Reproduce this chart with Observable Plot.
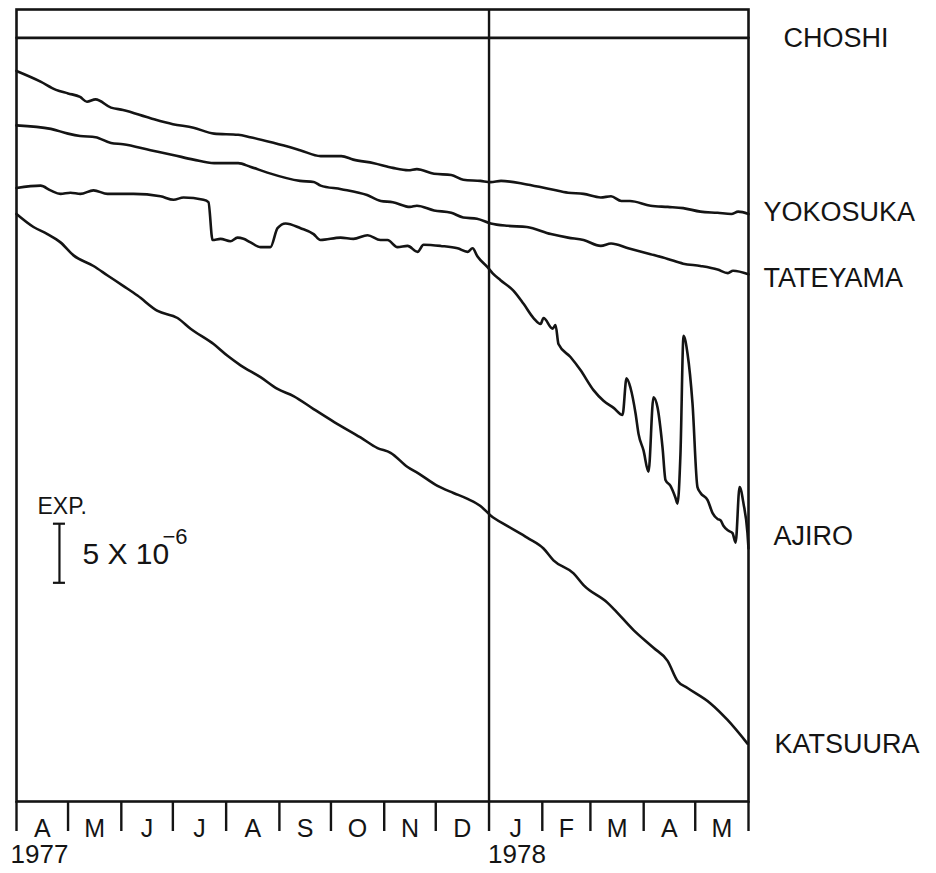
<!DOCTYPE html>
<html>
<head>
<meta charset="utf-8">
<script src="https://cdn.jsdelivr.net/npm/d3@7"></script>
<script src="https://cdn.jsdelivr.net/npm/@observablehq/plot@0.6"></script>
<style>
  html, body { margin: 0; padding: 0; background: #ffffff; }
  #chart svg { display: block; }
</style>
</head>
<body>
<div id="chart"></div>
<script>
// ---- Data (days since 1 April 1977; strain in units of 10^-6, arbitrary offsets) ----
const stations = ["CHOSHI", "YOKOSUKA", "TATEYAMA", "AJIRO", "KATSUURA"];

const choshiDays   = [0, 100, 200, 300, 426];
const choshiValues = [64.6, 64.6, 64.6, 64.6, 64.6];

const yokosukaDays   = [0, 14, 23, 30, 37, 41, 46, 55, 62, 78, 91, 103, 115, 129, 136, 150, 165, 177, 189, 196, 208, 219, 228, 233, 243, 253, 260, 270, 276, 282, 297, 311, 321, 330, 340, 346, 352, 357, 369, 379, 388, 398, 408, 416, 420, 426];
const yokosukaValues = [61.8, 60.9, 60.2, 59.9, 59.6, 59.2, 59.4, 58.7, 58.5, 57.8, 57.3, 57.0, 56.5, 56.4, 56.2, 55.7, 55.1, 54.6, 54.6, 54.3, 54.0, 53.6, 53.4, 53.5, 53.1, 53.0, 52.6, 52.5, 52.4, 52.5, 52.2, 51.8, 51.5, 51.4, 51.1, 51.2, 50.8, 50.8, 50.4, 50.3, 50.2, 49.9, 49.8, 49.7, 49.9, 49.7];

const tateyamaDays   = [0, 20, 30, 37, 46, 55, 62, 78, 91, 103, 115, 129, 136, 146, 165, 173, 177, 189, 204, 212, 219, 229, 233, 243, 253, 260, 268, 276, 286, 297, 311, 321, 330, 340, 346, 356, 369, 379, 388, 398, 408, 414, 417, 426];
const tateyamaValues = [57.2, 56.9, 56.5, 56.3, 56.2, 55.7, 55.6, 55.1, 54.7, 54.3, 54.0, 54.0, 53.7, 53.2, 52.5, 52.4, 52.1, 51.8, 51.3, 50.8, 50.7, 50.3, 50.4, 50.0, 49.8, 49.4, 49.3, 48.9, 48.7, 48.6, 48.0, 47.7, 47.5, 47.0, 47.2, 46.8, 46.3, 45.9, 45.5, 45.3, 45.0, 44.7, 44.9, 44.6];

const ajiroDays   = [0, 14, 19.8, 25.6, 31.4, 37.2, 44.8, 53.0, 68.1, 83.8, 91.4, 97.2, 108.8, 111.7, 114.1, 118.7, 124.5, 128.6, 132.1, 136.2, 142.0, 147.8, 151.9, 156.6, 165.3, 172.9, 176.9, 188.6, 196.1, 204.3, 211.8, 215.9, 221.7, 227.6, 233.4, 236.9, 246.8, 256.7, 262.5, 265.4, 268.3, 274.1, 277.0, 281.7, 289.3, 295.1, 300.9, 305.0, 306.7, 312.0, 313.7, 315.4, 322.4, 328.2, 335.8, 341.6, 347.5, 352.7, 355.0, 357.3, 360.3, 362.0, 364.9, 367.8, 370.7, 373.1, 376.0, 377.7, 380.6, 383.5, 384.7, 386.4, 388.2, 390.5, 393.4, 396.3, 398.1, 402.2, 405.1, 408.0, 409.7, 411.5, 414.4, 416.7, 418.5, 420.8, 423.1, 425.4, 426];
const ajiroValues = [51.9, 52.1, 51.7, 51.4, 51.5, 51.4, 51.7, 51.4, 51.4, 51.2, 50.9, 51.1, 50.9, 50.7, 47.5, 47.6, 47.4, 47.7, 47.6, 47.3, 46.9, 46.9, 48.5, 48.9, 48.5, 48.0, 47.5, 47.7, 47.6, 47.9, 47.5, 47.5, 46.9, 47.0, 46.5, 47.1, 47.0, 46.8, 46.5, 46.8, 46.1, 45.2, 44.7, 44.1, 43.2, 42.1, 40.9, 40.4, 40.9, 40.0, 40.3, 38.7, 37.6, 36.5, 34.8, 33.9, 33.3, 32.7, 35.8, 35.0, 32.8, 31.1, 29.7, 27.9, 34.2, 33.3, 29.9, 27.2, 26.7, 25.7, 25.2, 29.4, 39.4, 37.9, 33.7, 26.6, 26.1, 25.5, 24.4, 23.9, 23.8, 23.3, 22.9, 22.7, 21.9, 26.6, 25.2, 22.7, 21.4];

const katsuuraDays   = [0, 9.9, 18.0, 25.6, 33.2, 44.8, 53.0, 62.3, 70.4, 82.1, 93.7, 101.3, 114.7, 122.8, 130.4, 142.0, 151.9, 161.2, 172.9, 184.9, 200.2, 210.1, 217.7, 227.6, 233.4, 245.0, 254.3, 262.5, 270.0, 275.9, 285.8, 297.4, 306.7, 312.5, 324.2, 330.0, 344.0, 347.5, 359.1, 370.7, 378.9, 384.7, 390.5, 403.9, 413.8, 425.4];
const katsuuraValues = [49.7, 48.6, 48.0, 47.3, 46.2, 45.3, 44.5, 43.6, 42.8, 41.5, 40.9, 40.0, 38.7, 37.7, 36.9, 35.9, 34.9, 34.3, 33.2, 32.1, 30.8, 29.9, 29.5, 28.3, 27.8, 26.7, 26.1, 25.6, 25.0, 24.2, 23.3, 22.3, 21.4, 20.4, 19.3, 18.3, 16.8, 16.3, 14.5, 13.0, 11.9, 10.2, 9.6, 8.3, 6.9, 4.9];

const monthLabels = ["A", "M", "J", "J", "A", "S", "O", "N", "D", "J", "F", "M", "A", "M"];
const yearLabels  = ["1977", "1978"];

// scale bar: 5 x 10^-6
const scaleBarDay = 25;
const scaleBarBase = 18.5;
const scaleBarLength = 5;

// ---- Build tables ----
const t0 = Date.UTC(1977, 3, 1);
const toDate = d => new Date(t0 + d * 864e5);

const seriesDays = [choshiDays, yokosukaDays, tateyamaDays, ajiroDays, katsuuraDays];
const seriesValues = [choshiValues, yokosukaValues, tateyamaValues, ajiroValues, katsuuraValues];
const rows = [];
stations.forEach((s, i) => {
  seriesDays[i].forEach((d, j) => rows.push({station: s, date: toDate(d), value: seriesValues[i][j]}));
});
const lastPoints = stations.map((s, i) => ({
  station: s,
  date: toDate(seriesDays[i][seriesDays[i].length - 1]),
  value: seriesValues[i][seriesValues[i].length - 1]
}));

const monthStarts = d3.utcMonth.range(new Date(Date.UTC(1977, 3, 1)), new Date(Date.UTC(1978, 5, 2)));
const monthMids = monthLabels.map((m, i) => ({
  label: m,
  date: new Date((monthStarts[i].getTime() + monthStarts[i + 1].getTime()) / 2)
}));
const yearDates = [new Date(Date.UTC(1977, 3, 1)), new Date(Date.UTC(1978, 0, 1))];
const jan1978 = new Date(Date.UTC(1978, 0, 1));

// label style offsets (pixels)
const labelDx = [35, 15, 15, 25, 27];
const labelDy = [0, -2, 4, -12, 1];
const yearDx = [-6, -1];

const ink = "#141414";
const font = "'Liberation Sans', Arial, Helvetica, sans-serif";

const marks = [
  Plot.frame({stroke: ink, strokeWidth: 2.6}),
  Plot.ruleX([jan1978], {stroke: ink, strokeWidth: 2.4}),
  Plot.axisX({ticks: monthStarts, tickSize: 30, tickFormat: () => "", stroke: ink, strokeWidth: 2.4}),
  Plot.line(rows, {x: "date", y: "value", z: "station", stroke: ink, strokeWidth: 2.6, strokeLinejoin: "round", strokeLinecap: "round", curve: "monotone-x"}),
  // month labels
  Plot.text(monthMids, {x: "date", text: "label", frameAnchor: "bottom", lineAnchor: "middle", dy: 27, fontSize: 25, fill: ink, ariaLabel: "month-labels"}),
  // scale bar
  Plot.ruleX([scaleBarDay], {x: d => toDate(d), y1: scaleBarBase, y2: scaleBarBase + scaleBarLength, stroke: ink, strokeWidth: 2.2}),
  Plot.ruleY([scaleBarBase, scaleBarBase + scaleBarLength], {y: d => d, x1: toDate(scaleBarDay - 3.5), x2: toDate(scaleBarDay + 3.5), stroke: ink, strokeWidth: 2.2}),
  Plot.text(["EXP."], {x: toDate(scaleBarDay), y: scaleBarBase + scaleBarLength, text: d => d, dx: -22, dy: -17, textAnchor: "start", fontSize: 23, fill: ink}),
  Plot.text(["5 X 10"], {x: toDate(scaleBarDay), y: scaleBarBase + scaleBarLength / 2, text: d => d, dx: 23, dy: 1, textAnchor: "start", fontSize: 30, fill: ink}),
  Plot.text(["\u22126"], {x: toDate(scaleBarDay), y: scaleBarBase + scaleBarLength / 2, text: d => d, dx: 103, dy: -16, textAnchor: "start", fontSize: 22, fill: ink})
];
// year labels
yearLabels.forEach((y, i) => {
  marks.push(Plot.text([y], {x: yearDates[i], text: d => d, frameAnchor: "bottom", lineAnchor: "middle", dy: 53, dx: yearDx[i], textAnchor: "start", fontSize: 26, fill: ink, ariaLabel: "year-labels"}));
});
// station labels
lastPoints.forEach((p, i) => {
  marks.push(Plot.text([p], {x: "date", y: "value", text: "station", dx: labelDx[i], dy: labelDy[i], textAnchor: "start", fontSize: 27, fill: ink, ariaLabel: "station-labels"}));
});

const chart = Plot.plot({
  width: 936,
  height: 873,
  marginLeft: 16,
  marginRight: 188,
  marginTop: 9,
  marginBottom: 72,
  x: {type: "utc", domain: [new Date(Date.UTC(1977, 3, 1)), new Date(Date.UTC(1978, 5, 1))], axis: null},
  y: {domain: [0, 67], axis: null},
  style: {fontFamily: font, background: "#ffffff", overflow: "visible"},
  marks
});

d3.select(chart).selectAll('g[aria-label="station-labels"] text').attr("letter-spacing", "2.4px");
d3.select(chart).selectAll('g[aria-label="year-labels"] text').attr("letter-spacing", "3.4px");
document.getElementById("chart").appendChild(chart);
</script>
</body>
</html>
